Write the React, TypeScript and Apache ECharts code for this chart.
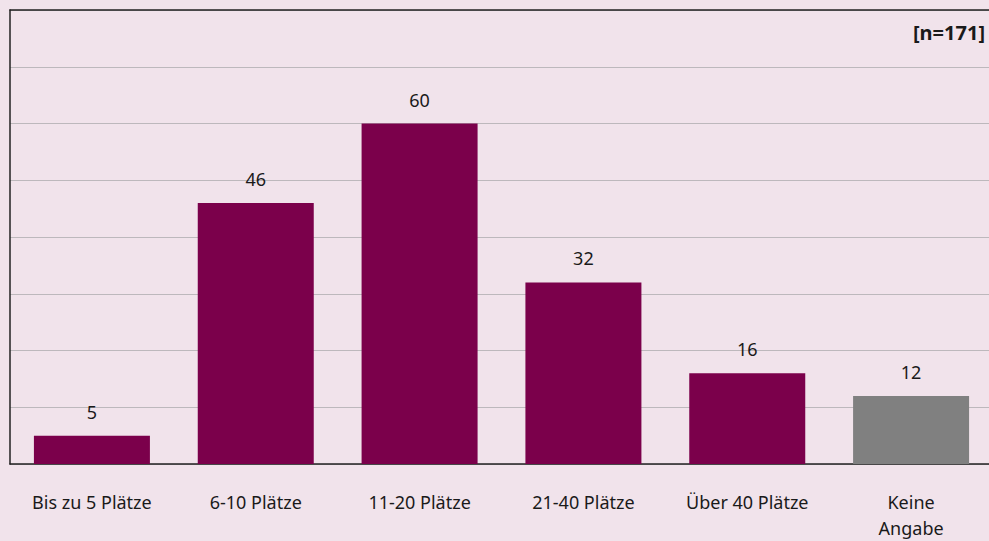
import React, { useEffect, useRef } from "react";
import * as echarts from "echarts";

const categories = ["Bis zu 5 Plätze", "6-10 Plätze", "11-20 Plätze", "21-40 Plätze", "Über 40 Plätze", "Keine\nAngabe"];
const values = [5, 46, 60, 32, 16, 12];
const barColors = ["#7b004b", "#7b004b", "#7b004b", "#7b004b", "#7b004b", "#808080"];
const sampleNote = "[n=171]";

const FONT = "'Noto Sans', sans-serif";

export default function App() {
  const ref = useRef<HTMLDivElement>(null);
  useEffect(() => {
    if (!ref.current) return;
    const chart = echarts.init(ref.current, undefined, { renderer: "svg" });
    chart.setOption({
      animation: false,
      backgroundColor: "#f1e3eb",
      textStyle: { fontFamily: FONT },
      grid: { left: 10, right: 0, top: 10, bottom: 76, containLabel: false },
      xAxis: [
        {
          type: "category",
          data: categories,
          position: "bottom",
          axisLine: { show: true, lineStyle: { color: "#222", width: 1.5 } },
          axisTick: { show: false },
          axisLabel: {
            color: "#1a1a1a",
            fontSize: 18,
            fontFamily: FONT,
            lineHeight: 26,
            margin: 25,
            interval: 0,
          },
        },
        {
          type: "category",
          data: categories,
          position: "top",
          axisLine: { show: true, lineStyle: { color: "#222", width: 1.5 } },
          axisTick: { show: false },
          axisLabel: { show: false },
        },
      ],
      yAxis: {
        type: "value",
        min: 0,
        max: 80,
        interval: 10,
        axisLine: { show: true, lineStyle: { color: "#222", width: 1.5 } },
        axisTick: { show: false },
        axisLabel: { show: false },
        splitLine: { show: true, lineStyle: { color: "#bdb8bc", width: 1 } },
      },
      series: [
        {
          type: "bar",
          xAxisIndex: 0,
          barWidth: 116,
          data: values.map((v, i) => ({ value: v, itemStyle: { color: barColors[i] } })),
          label: {
            show: true,
            position: "top",
            distance: 14,
            color: "#1a1a1a",
            fontSize: 18,
            lineHeight: 20,
            fontFamily: FONT,
          },
        },
      ],
      graphic: [
        {
          type: "text",
          right: 8,
          top: 22,
          style: {
            text: sampleNote,
            fontSize: 20,
            fontWeight: "bold",
            fontFamily: FONT,
            fill: "#1a1a1a",
          },
        },
      ],
    });
    return () => chart.dispose();
  }, []);
  return (
    <div
      style={{ position: "fixed", left: 0, top: 0, width: 989, height: 541, overflow: "hidden", background: "#f1e3eb" }}
    >
      <div ref={ref} style={{ width: 993, height: 541 }} />
    </div>
  );
}
